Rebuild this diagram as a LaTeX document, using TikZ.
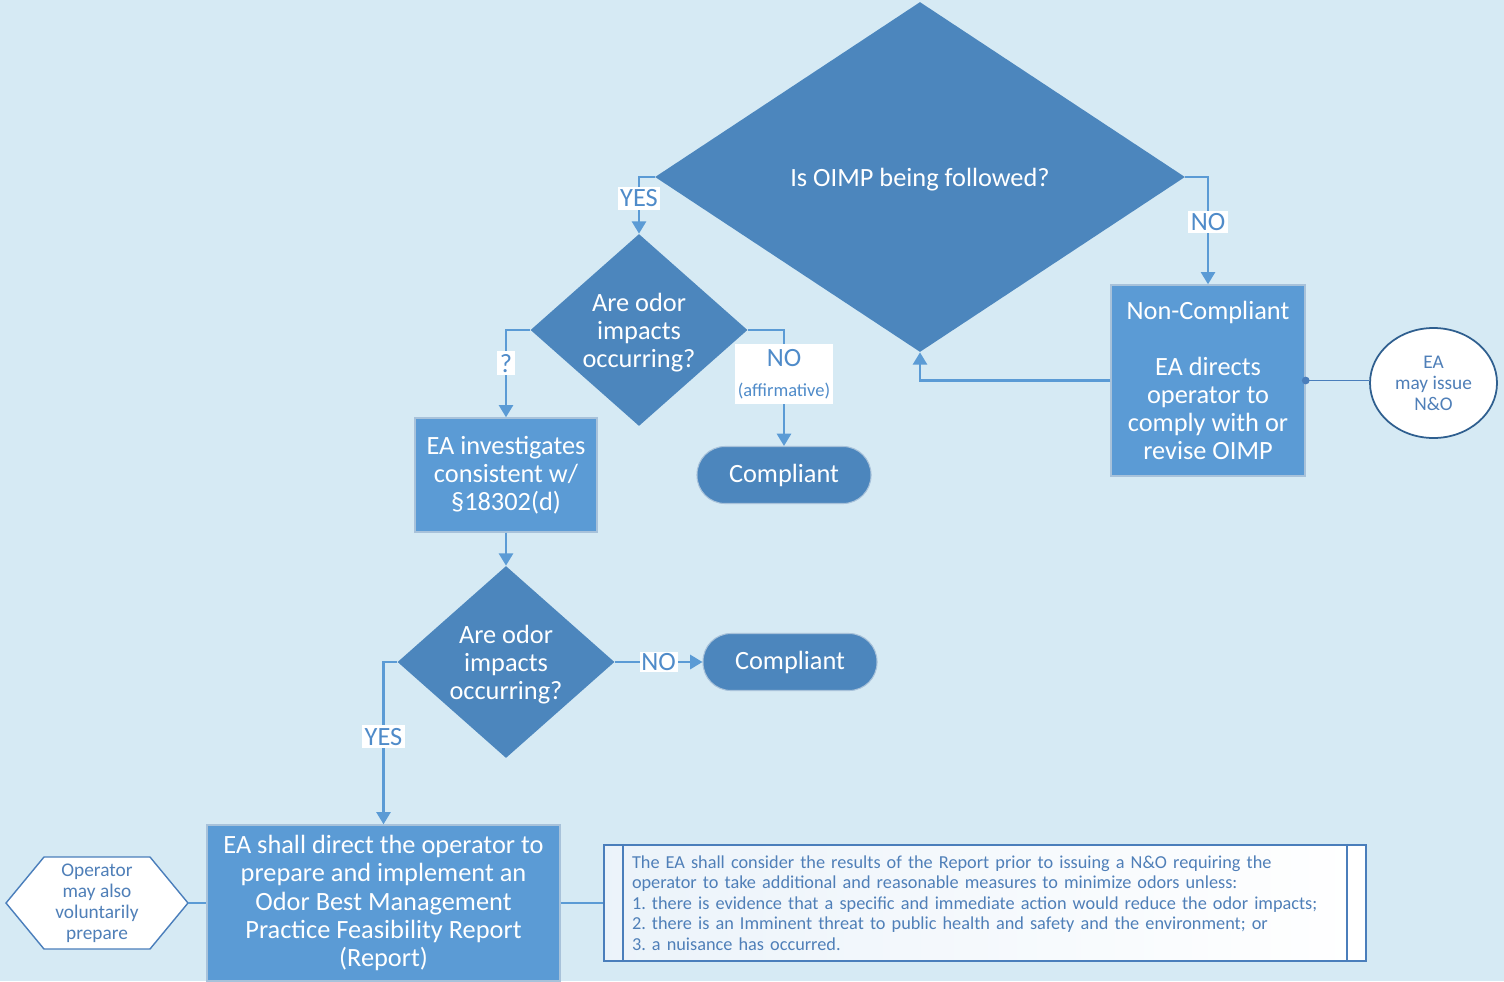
\documentclass[tikz,border=0pt]{standalone}
\usepackage{fontspec}
\setmainfont{Carlito}
\usetikzlibrary{shapes.geometric,arrows.meta}
\definecolor{bg}{HTML}{D6EAF4}
\definecolor{dkblue}{HTML}{4C86BD}
\definecolor{ltblue}{HTML}{5B9BD5}
\definecolor{lnblue}{HTML}{5B9BD5}
\definecolor{boxedge}{HTML}{A8C2DA}
\definecolor{lbl}{HTML}{4F8BC9}
\definecolor{edge}{HTML}{4A7EBB}
\definecolor{dkedge}{HTML}{2F5F8F}
\definecolor{txtblue}{HTML}{4F7FB8}
\newcommand\fbig{\fontsize{15}{16}\selectfont}
\newcommand\fmid{\fontsize{11}{12}\selectfont}
\newcommand\fsml{\fontsize{10.4}{11.6}\selectfont\frenchspacing}
\def\u{0.02cm}
\tikzset{
  dia/.style={diamond, fill=dkblue, draw=none, inner sep=0pt},
  dtext/.style={text=white, align=center, font=\fbig, yshift=-1.5pt},
  proc/.style={rectangle, fill=ltblue, draw=boxedge, line width=0.8pt, text=white, align=center, font=\fbig, inner sep=0pt},
  term/.style={rectangle, rounded corners=28*\u, fill=dkblue, draw=boxedge, line width=0.6pt, text=white, font=\fbig, minimum width=174*\u, minimum height=57*\u},
  conn/.style={draw=lnblue, line width=1.5pt},
  arr/.style={conn, -{Triangle[width=8pt,length=7pt]}},
  lab/.style={fill=white, text=lbl, font=\fbig, inner sep=1.5pt, align=center},
}
\begin{document}
\begin{tikzpicture}[x=0.02cm,y=-0.02cm]
\fill[bg] (0,0) rectangle (1504,981);
\useasboundingbox (0,0) rectangle (1504,981);

% decisions
\node[dia, minimum width=530*\u, minimum height=350*\u,
  label={[dtext]center:Is OIMP being followed?}] (d1) at (920,177) {};
\node[dia, minimum width=217*\u, minimum height=192*\u,
  label={[dtext]center:{Are odor\\impacts\\occurring?}}] (d2) at (639,330) {};
\node[dia, minimum width=217*\u, minimum height=192*\u,
  label={[dtext]center:{Are odor\\impacts\\occurring?}}] (d3) at (506,662) {};

% processes
\node[proc, minimum width=194*\u, minimum height=191*\u] (nc) at (1208,380.5)
  {Non-Compliant\\[16pt]EA directs\\operator to\\comply with or\\revise OIMP};
\node[proc, minimum width=182*\u, minimum height=114*\u] (ea) at (506,475)
  {EA investigates\\consistent w/\\§18302(d)};
\node[proc, minimum width=353*\u, minimum height=156*\u] (rep) at (383.5,903)
  {EA shall direct the operator to\\prepare and implement an\\Odor Best Management\\Practice Feasibility Report\\(Report)};

% terminals
\node[term] (c1) at (784,475) {Compliant};
\node[term] (c2) at (790,662) {Compliant};

% ellipse
\node[ellipse, fill=white, draw=dkedge, line width=1pt, minimum width=127*\u, minimum height=110*\u,
  text=txtblue, font=\fmid, align=center, inner sep=0pt] (el) at (1433.5,383) {EA\\may issue\\N\&O};

% hexagon
\draw[fill=white, draw=edge, line width=0.8pt]
  (6,903) -- (44,857) -- (150,857) -- (188,903) -- (150,949) -- (44,949) -- cycle;
\node[rectangle, minimum width=182*\u, minimum height=92*\u, inner sep=0pt,
  text=txtblue, font=\fmid, align=center] (hex) at (97,903) {Operator\\may also\\voluntarily\\prepare};

% annotation box
\node[rectangle, draw=edge, line width=1.2pt, left color=white!88!ltblue, right color=white,
  minimum width=762*\u, minimum height=116*\u, text width=706*\u, inner xsep=28*\u,
  text=txtblue, font=\fsml, align=left] (tb) at (985,903)
  {The EA shall consider the results of the Report prior to issuing a N\&O requiring the\\
   operator to take additional and reasonable measures to minimize odors unless:\\
   1. there is evidence that a specific and immediate action would reduce the odor impacts;\\
   2. there is an Imminent threat to public health and safety and the environment; or\\
   3. a nuisance has occurred.};
\draw[draw=edge, line width=1pt] ([xshift=20*\u]tb.north west) -- ([xshift=20*\u]tb.south west);
\draw[draw=edge, line width=1pt] ([xshift=-20*\u]tb.north east) -- ([xshift=-20*\u]tb.south east);

% connectors
\draw[arr] (d1.west) -| node[lab, pos=0.69] {YES} (d2.north);
\draw[arr] (d1.east) -| node[lab, pos=0.71] {NO} (nc.north);
\draw[arr] (nc.west) -| (d1.south);
\draw[arr] (d2.west) -| node[lab, pos=0.69] {?} (ea.north);
\draw[arr] (d2.east) -| node[lab, pos=0.69, inner ysep=3pt] {NO\\[1pt]{\fontsize{10.5}{12}\selectfont (affirmative)}} (c1.north);
\draw[arr] (ea.south) -- (d3.north);
\draw[arr] (d3.east) -- node[lab, pos=0.5, inner sep=1pt] {NO} (c2.west);
\draw[arr] (d3.west) -| node[lab, pos=0.73] {YES} (rep.north);
\draw[conn] (hex.east) -- (rep.west);
\draw[conn] (rep.east) -- (tb.west);
\draw[conn, line width=1pt, draw=edge] (nc.east) -- (nc.east -| el.west);
\fill[edge] (nc.east) circle (2.2pt);
\end{tikzpicture}
\end{document}
